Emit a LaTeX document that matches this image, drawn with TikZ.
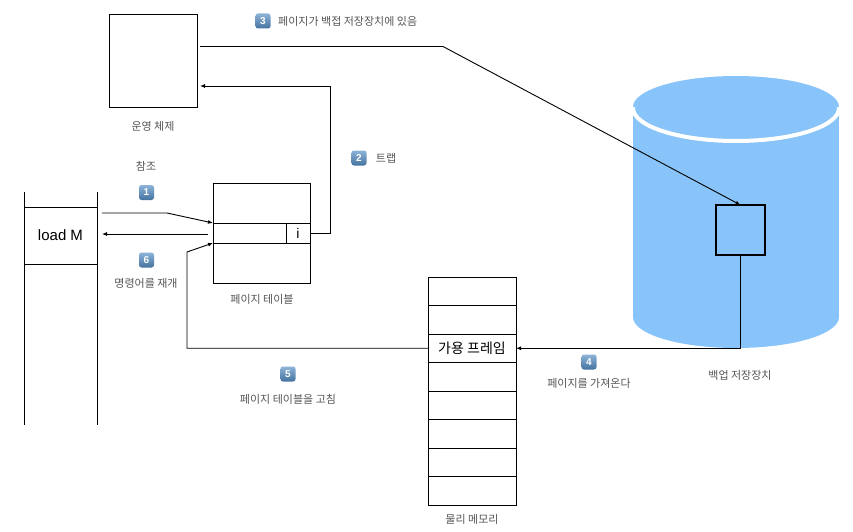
\documentclass[tikz,border=0pt]{standalone}
\usepackage{fontspec}
\setmainfont{Liberation Sans}
\newfontfamily\kr{Noto Sans CJK KR}
\usetikzlibrary{arrows.meta,calc}
\definecolor{diskblue}{HTML}{88C4F9}
\definecolor{labelgray}{HTML}{555555}
\definecolor{badgetop}{HTML}{8DB3D8}
\definecolor{badgebot}{HTML}{44739F}
\tikzset{
  box/.style={draw, line width=1pt, inner sep=0pt, outer sep=0pt},
  lbl/.style={font=\kr\fontsize{11}{13}\selectfont, text=labelgray, inner sep=1pt},
  badge/.style={rounded corners=2.5pt, minimum size=15pt, inner sep=0pt, top color=badgetop, bottom color=badgebot, text=white, font=\bfseries\fontsize{10}{10}\selectfont},
  arr/.style={-{Latex[length=5pt,width=4pt]}, line width=0.9pt},
}
\begin{document}
\begin{tikzpicture}[x=1pt,y=-1pt]
\useasboundingbox (0,0) rectangle (853,532);
% cylinder (backing store)
\fill[diskblue] (633,107) rectangle (839,317);
\fill[diskblue] (736,317) ellipse [x radius=103, y radius=31];
\fill[diskblue] (736,107) ellipse [x radius=103, y radius=31];
\begin{scope}
  \clip (628,108) rectangle (844,150);
  \draw[white, line width=4pt] (736,108) ellipse [x radius=103, y radius=33];
\end{scope}
\node[box, line width=2pt, minimum width=49pt, minimum height=50pt] (small) at (740.5,230) {};
% OS
\node[box, minimum width=88pt, minimum height=93pt] (os) at (153,61.5) {};
% load M column
\node[box, minimum width=73pt, minimum height=57pt, font=\fontsize{15}{15}\selectfont] (loadm) at (60.5,235.5) {load M};
\draw[line width=1pt] (loadm.north west) -- ++(0,-15);
\draw[line width=1pt] (loadm.north east) -- ++(0,-15);
\draw[line width=1pt] (loadm.south west) -- ++(0,161);
\draw[line width=1pt] (loadm.south east) -- ++(0,161);
% page table
\node[box, minimum width=97pt, minimum height=40pt] (pt1) at (261.5,203) {};
\node[box, minimum width=97pt, minimum height=20pt] (pt2) at (261.5,233) {};
\node[box, minimum width=97pt, minimum height=40pt] (pt3) at (261.5,263) {};
\node[box, minimum width=24pt, minimum height=20pt, font=\fontsize{14}{14}\selectfont] (icell) at (298,233) {i};
% physical memory
\foreach \i in {0,...,7} {
  \node[box, minimum width=88pt, minimum height=28.5pt] (mem\i) at (472,{277+28.5*\i+14.25}) {};
}
\node[font=\kr\fontsize{14}{14}\selectfont] (free) at (mem2) {가용 프레임};
% labels
\node[lbl] (tos) at (153,126) {운영 체제};
\node[lbl] (t1) at (146,166) {참조};
\node[badge] (b1) at (146.5,192.5) {1};
\node[badge] (b6) at (146.5,260) {6};
\node[lbl] (t6) at (146,283) {명령어를 재개};
\node[lbl] (tpt) at (262,299) {페이지 테이블};
\node[badge] (b2) at (359,158) {2};
\node[lbl] (t2) at (386,158) {트랩};
\node[badge] (b3) at (263,21) {3};
\node[lbl, anchor=west] (t3) at (277,21) {페이지가 백접 저장장치에 있음};
\node[badge] (b5) at (288,374) {5};
\node[lbl] (t5) at (288,399) {페이지 테이블을 고침};
\node[badge] (b4) at (589,362) {4};
\node[lbl] (t4) at (589,383) {페이지를 가져온다};
\node[lbl] (tdisk) at (740,375) {백업 저장장치};
\node[lbl] (tmem) at (472,519) {물리 메모리};
% connectors
\coordinate (c1s) at (102,213);
\coordinate (c1b) at (167,213);
\draw[arr] (c1s) -- (c1b) -- (pt2.north west);
\coordinate (c6s) at (208,234);
\coordinate (c6e) at (102,234);
\draw[arr] (c6s) -- (c6e);
\coordinate (c2) at (330,86);
\draw[arr] (icell.east) -| (c2) -- ([xshift=3pt]c2 -| os.east);
\coordinate (c3) at (443,46.5);
\draw[arr] ([xshift=3pt]c3 -| os.east) -- (c3) -- (small.north);
\draw[arr] (small.south) -- (small.south |- mem2.east) -- (mem2.east);
\coordinate (c5) at (187,252);
\draw[arr] (mem2.west) -- (mem2.west -| c5) -- (c5) -- (pt3.north west);
\end{tikzpicture}
\end{document}
